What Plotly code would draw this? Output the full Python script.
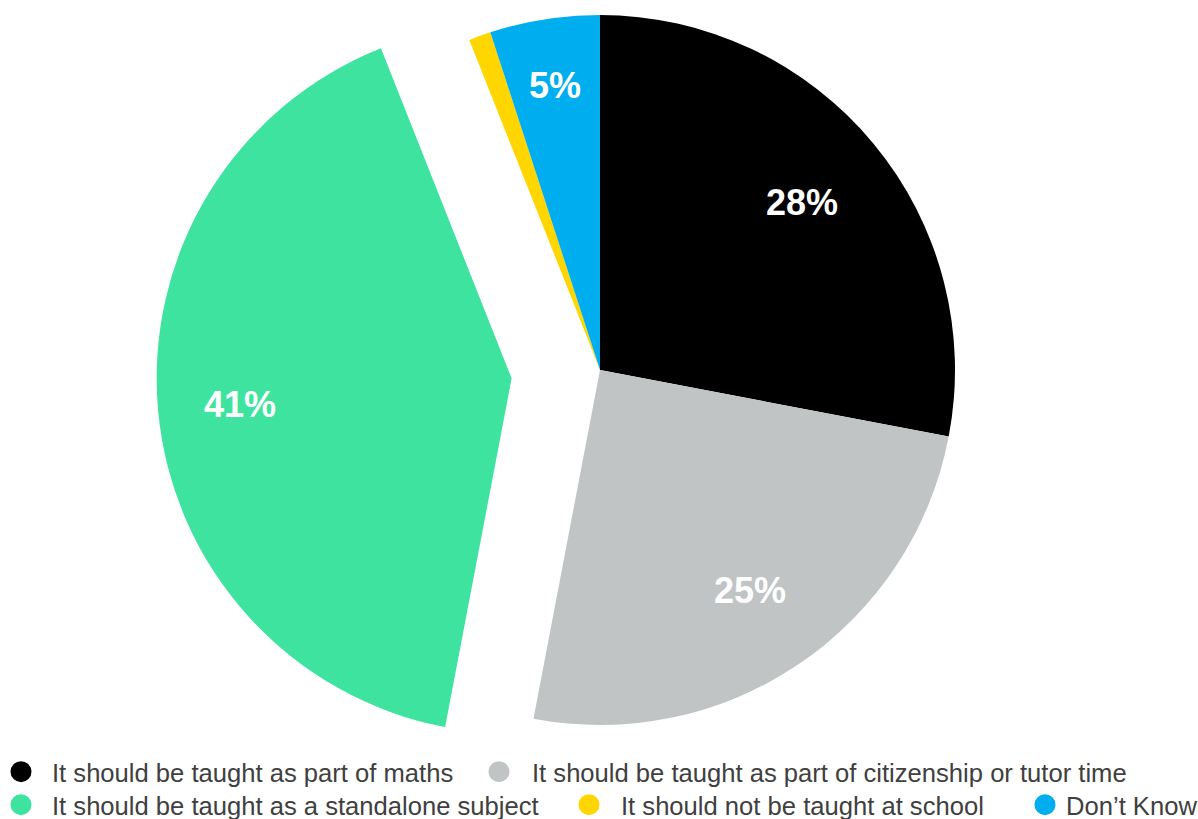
import math
import plotly.graph_objects as go

# Survey answers and their shares (%)
categories = [
    "It should be taught as part of maths",
    "It should be taught as part of citizenship or tutor time",
    "It should be taught as a standalone subject",
    "It should not be taught at school",
    "Don\u2019t Know",
]
shares = [28, 25, 41, 1, 5]
show_label = [True, True, True, False, True]

# Styling
colors = ["#000000", "#C0C4C5", "#3FE3A0", "#FFD600", "#00AEEF"]
label_radius = [0.74, 0.75, 0.77, None, 0.81]   # label distance from centre, fraction of radius
pulled_index = 2
pull = 0.25

W, H = 1198, 819
CX, CY, R = 600, 370, 355

FONT = "Liberation Sans, Arial, sans-serif"
TRANSPARENT = "rgba(0,0,0,0)"


def domain_for(cx, cy):
    return dict(x=[(cx - R) / W, (cx + R) / W], y=[1 - (cy + R) / H, 1 - (cy - R) / H])


# mid-angle of each slice, clockwise from 12 o'clock
total = sum(shares)
mids, cum = [], 0
for v in shares:
    mids.append(2 * math.pi * (cum + v / 2) / total)
    cum += v

# offset of the exploded slice along its bisector
ang = mids[pulled_index]
off_x = pull * R * math.sin(ang)
off_y = -pull * R * math.cos(ang)

fig = go.Figure()

common = dict(
    labels=categories,
    values=shares,
    sort=False,
    direction="clockwise",
    rotation=0,
    textinfo="none",
    showlegend=False,
    hoverinfo="label+percent",
)

# body of the pie (exploded slice left out)
fig.add_trace(go.Pie(
    marker=dict(colors=[c if i != pulled_index else TRANSPARENT for i, c in enumerate(colors)],
                line=dict(width=0)),
    domain=domain_for(CX, CY),
    **common,
))

# the exploded slice
fig.add_trace(go.Pie(
    marker=dict(colors=[c if i == pulled_index else TRANSPARENT for i, c in enumerate(colors)],
                line=dict(width=0)),
    domain=domain_for(CX + off_x, CY + off_y),
    **common,
))

# percentage labels
annotations = []
for i, v in enumerate(shares):
    if not show_label[i]:
        continue
    cx = CX + (off_x if i == pulled_index else 0)
    cy = CY + (off_y if i == pulled_index else 0)
    rr = label_radius[i] * R
    px = cx + rr * math.sin(mids[i])
    py = cy - rr * math.cos(mids[i])
    annotations.append(dict(
        x=px / W, y=1 - py / H, xref="paper", yref="paper",
        text=f"{v}%", showarrow=False, xanchor="center", yanchor="middle",
        font=dict(family=FONT, size=36, color="white", weight="bold"),
    ))

# legend: one legend box per entry so the entries flow as in two rows
marker_x = [21, 499, 21, 589, 1045]
text_x = [52, 532, 52, 621, 1066]
row_of = [0, 0, 1, 1, 1]
row_y = [772, 805]

legend_layout = {}
for i, name in enumerate(categories):
    key = "legend" if i == 0 else f"legend{i + 1}"
    half = text_x[i] - marker_x[i]
    itemwidth = max(30, 2 * half - 10)
    left = marker_x[i] - (itemwidth + 10) / 2
    fig.add_trace(go.Scatter(
        x=[None], y=[None], mode="markers", name=name,
        marker=dict(color=colors[i], size=16, line=dict(color=colors[i], width=5)),
        legend=key, showlegend=True, hoverinfo="skip",
    ))
    legend_layout[key] = dict(
        x=left / W, y=1 - row_y[row_of[i]] / H, xanchor="left", yanchor="middle",
        orientation="h", itemwidth=itemwidth, bgcolor=TRANSPARENT, borderwidth=0,
        font=dict(family=FONT, size=25.6, color="#404040"),
        itemclick=False, itemdoubleclick=False,
    )

fig.update_layout(
    width=W, height=H,
    margin=dict(l=0, r=0, t=0, b=0, autoexpand=False),
    paper_bgcolor="white", plot_bgcolor="white",
    xaxis=dict(visible=False), yaxis=dict(visible=False),
    annotations=annotations,
    font=dict(family=FONT),
    **legend_layout,
)

fig.write_html("out.html", config={"displayModeBar": False})
